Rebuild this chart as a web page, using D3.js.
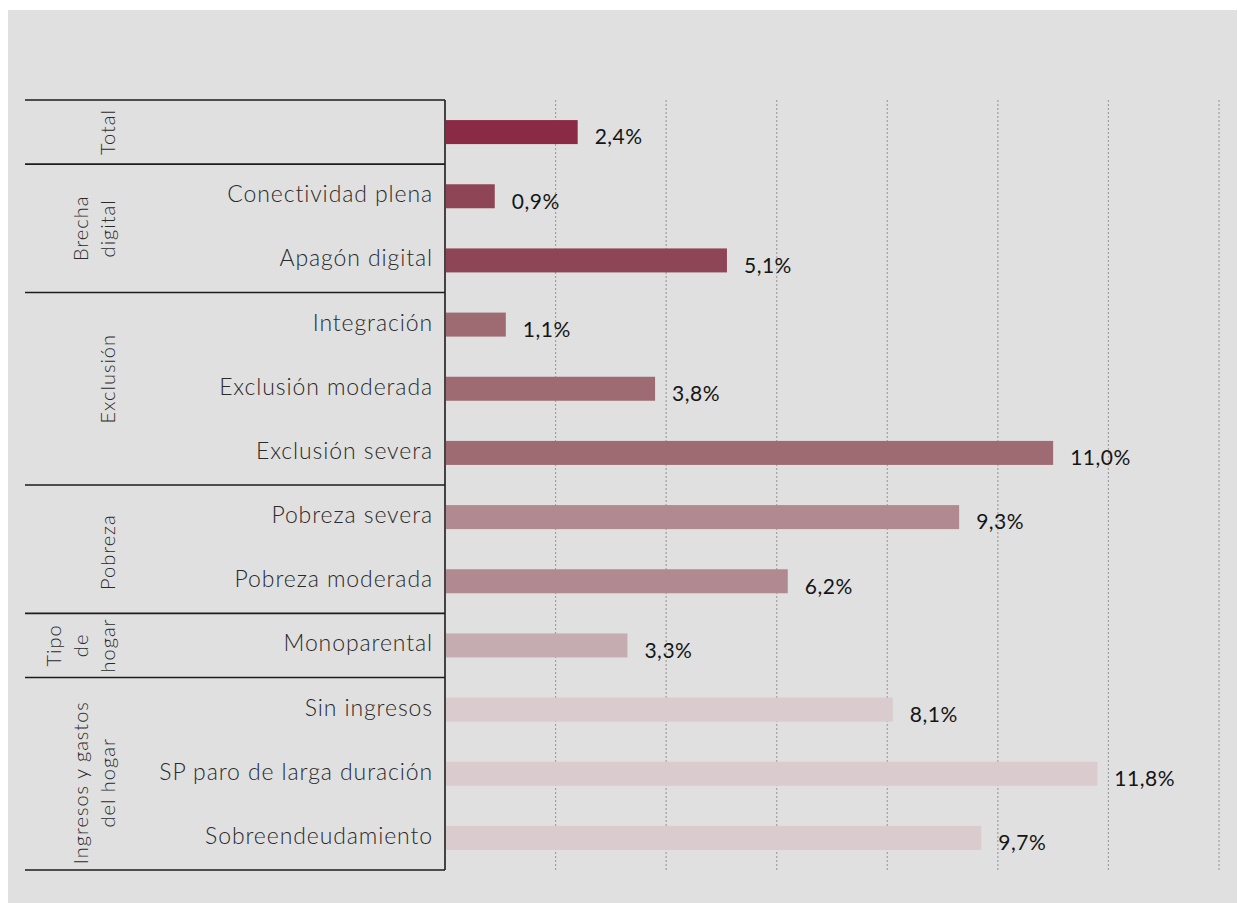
<!DOCTYPE html>
<html>
<head>
<meta charset="utf-8">
<script src="https://cdn.jsdelivr.net/npm/d3@7"></script>
<style>
  html, body { margin: 0; padding: 0; background: #ffffff; }
  svg { display: block; }
</style>
</head>
<body>
<svg id="chart" width="1238" height="903"></svg>
<script>
// Category rows, top to bottom
const categories = [
  "Total",
  "Conectividad plena", "Apagón digital",
  "Integración", "Exclusión moderada", "Exclusión severa",
  "Pobreza severa", "Pobreza moderada",
  "Monoparental",
  "Sin ingresos", "SP paro de larga duración", "Sobreendeudamiento"
];
// Percentage for each row
const values = [2.4, 0.9, 5.1, 1.1, 3.8, 11.0, 9.3, 6.2, 3.3, 8.1, 11.8, 9.7];
// Group of each row
const rowGroups = [
  "Total",
  "Brecha digital", "Brecha digital",
  "Exclusión", "Exclusión", "Exclusión",
  "Pobreza", "Pobreza",
  "Tipo de hogar",
  "Ingresos y gastos", "Ingresos y gastos", "Ingresos y gastos"
];
// Group captions (one array entry per printed line)
const groupNames = ["Total", "Brecha digital", "Exclusión", "Pobreza", "Tipo de hogar", "Ingresos y gastos"];
const groupLines = [
  ["Total"],
  ["Brecha", "digital"],
  ["Exclusión"],
  ["Pobreza"],
  ["Tipo", "de", "hogar"],
  ["Ingresos y gastos", "del hogar"]
];
const groupColors = ["#8a2a44", "#8e4656", "#9e6b72", "#b08a90", "#c5acb0", "#d9cbce"];
const gridTicks = [2, 4, 6, 8, 10, 12, 14];

const svg = d3.select("#chart");
const W = 1238, H = 903;

// panel background
svg.append("rect").attr("x", 8).attr("y", 10).attr("width", 1229).attr("height", H - 10)
  .attr("fill", "#e0e0e0");

const plotTop = 100, plotBottom = 870;
const axisX = 445;
const x = d3.scaleLinear().domain([0, 14]).range([axisX, 1219]);
const y = d3.scaleBand().domain(categories).range([plotTop, plotBottom]).paddingInner(0).paddingOuter(0);
const color = d3.scaleOrdinal().domain(groupNames).range(groupColors);

const fmt = v => d3.format(".1f")(v).replace(".", ",") + "%";

// dotted vertical gridlines
svg.append("g").selectAll("line").data(gridTicks).join("line")
  .attr("x1", d => x(d)).attr("x2", d => x(d))
  .attr("y1", plotTop).attr("y2", plotBottom)
  .attr("stroke", "#a0a0a0").attr("stroke-width", 1.2)
  .attr("stroke-dasharray", "2,2");

// bars
const barH = 24;
svg.append("g").selectAll("rect").data(categories).join("rect")
  .attr("x", axisX + 1)
  .attr("y", d => y(d) + y.bandwidth() / 2 - barH / 2)
  .attr("width", (d, i) => x(values[i]) - axisX - 1)
  .attr("height", barH)
  .attr("fill", (d, i) => color(rowGroups[i]));

// value labels
svg.append("g").selectAll("text").data(categories).join("text")
  .attr("x", (d, i) => x(values[i]) + 17)
  .attr("y", d => y(d) + y.bandwidth() / 2 + 5)
  .attr("dy", "0.35em")
  .attr("font-family", "Lato, sans-serif")
  .attr("font-size", 21)
  .attr("letter-spacing", 0.5)
  .attr("fill", "#151515")
  .text((d, i) => fmt(values[i]));

// category labels (Total row has only the group caption)
svg.append("g").selectAll("text").data(categories.filter(c => c !== "Total")).join("text")
  .attr("x", 433)
  .attr("y", d => y(d) + y.bandwidth() / 2 - 2)
  .attr("dy", "0.35em")
  .attr("text-anchor", "end")
  .attr("font-family", "Lato, sans-serif")
  .attr("font-weight", 300)
  .attr("font-size", 23)
  .attr("letter-spacing", 0.9)
  .attr("fill", "#2a2a2a")
  .text(d => d);

// group extents
const groupSpans = groupNames.map(g => {
  const idx = categories.filter((c, i) => rowGroups[i] === g);
  const y0 = y(idx[0]);
  const y1 = y(idx[idx.length - 1]) + y.bandwidth();
  return { name: g, y0, y1 };
});

// table rules
const rules = svg.append("g").attr("stroke", "#1c1c1c").attr("stroke-width", 1.6);
const ruleYs = [plotTop].concat(groupSpans.map(s => s.y1));
rules.selectAll("line.h").data(ruleYs).join("line").attr("class", "h")
  .attr("x1", 25).attr("x2", axisX)
  .attr("y1", d => d).attr("y2", d => d);
rules.append("line")
  .attr("x1", axisX).attr("x2", axisX).attr("y1", plotTop).attr("y2", plotBottom);

// rotated group captions; a few are nudged off their band centre
const captionNudge = { "Exclusión": -10, "Pobreza": 3, "Ingresos y gastos": 9 };
const lineGap = 27;
groupSpans.forEach((s, gi) => {
  const lines = groupLines[gi];
  const cy = (s.y0 + s.y1) / 2 + (captionNudge[s.name] || 0);
  const lastX = 108;
  const t = svg.append("text")
    .attr("transform", `translate(0,${cy}) rotate(-90)`)
    .attr("text-anchor", "middle")
    .attr("font-family", "Lato, sans-serif")
    .attr("font-weight", 300)
    .attr("font-size", 20)
    .attr("letter-spacing", 1)
    .attr("fill", "#2a2a2a");
  lines.forEach((ln, li) => {
    const lx = lastX - (lines.length - 1 - li) * lineGap;
    t.append("tspan").attr("x", 0).attr("y", lx).attr("dy", "0.35em").text(ln);
  });
});
</script>
</body>
</html>
